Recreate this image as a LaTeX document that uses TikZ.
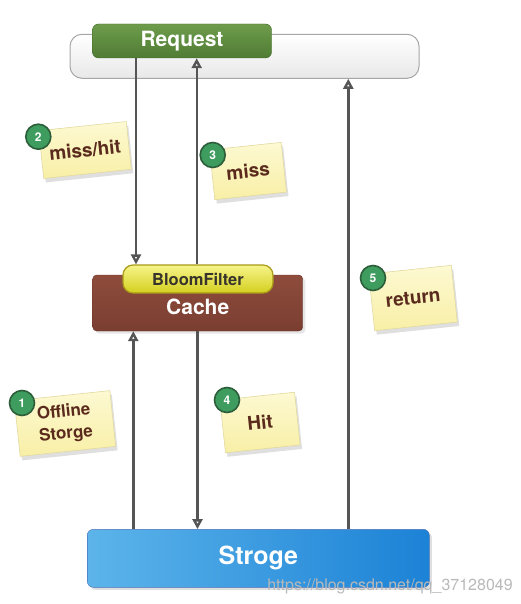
\documentclass[tikz,border=0pt]{standalone}
\usepackage{fontspec}
\setmainfont{TeX Gyre Heros}
\usepackage{tikz}
\usetikzlibrary{calc, positioning, arrows.meta, shadows}

\definecolor{linegray}{HTML}{555555}
\definecolor{reqtop}{HTML}{6E9C4C}
\definecolor{reqbot}{HTML}{4F7C33}
\definecolor{reqbrd}{HTML}{3F6628}
\definecolor{cachetop}{HTML}{8E4C3C}
\definecolor{cachebot}{HTML}{7A3E31}
\definecolor{cachebrd}{HTML}{6A3428}
\definecolor{bloomtop}{HTML}{F6F48A}
\definecolor{bloombot}{HTML}{D4CF1E}
\definecolor{bloombrd}{HTML}{A89A18}
\definecolor{strglight}{HTML}{5CB4EA}
\definecolor{strgblue}{HTML}{2090DA}
\definecolor{strgdark}{HTML}{1C82D6}
\definecolor{strgbrd}{HTML}{4A70B8}
\definecolor{notetop}{HTML}{FDF9D2}
\definecolor{notebot}{HTML}{F8EFA6}
\definecolor{notebrd}{HTML}{E2D9A0}
\definecolor{notetext}{HTML}{5A2A1C}
\definecolor{badgegreen}{HTML}{3D9C5E}
\definecolor{badgebrd}{HTML}{2D5E3A}

\begin{document}
\begin{tikzpicture}[x=1pt, y=-1pt,
    flow/.style={line width=2.4pt, draw=linegray, -{Triangle[open, length=10pt, width=10pt]}},
    note/.style={draw=notebrd, line width=0.6pt, top color=notetop, bottom color=notebot, rotate=6,
        drop shadow={opacity=0.25, shadow xshift=2pt, shadow yshift=-4pt},
        text=notetext, font=\bfseries\fontsize{19pt}{21pt}\selectfont, align=center, inner sep=0pt},
    badge/.style={circle, draw=badgebrd, line width=1.6pt, fill=badgegreen, text=white,
        minimum size=25pt, inner sep=0pt, font=\bfseries\fontsize{12pt}{12pt}\selectfont}]
        \useasboundingbox (0,0) rectangle (521,604);
        \coordinate (down) at (136,0);
        \coordinate (miss) at (196.7,0);
        \coordinate (back) at (348.3,0);
        \coordinate (load) at (133.3,0);
        \coordinate (hit) at (197.5,0);
        \node[draw=gray!70, line width=1pt, rounded corners=12pt, top color=white, bottom color=gray!18,
            minimum width=349pt, minimum height=44pt] (bar) at (244.5,56.3) {};
        \node[draw=reqbrd, rounded corners=6pt, top color=reqtop, bottom color=reqbot, text=white,
            font=\bfseries\fontsize{21pt}{21pt}\selectfont, minimum width=179pt, minimum height=34pt] (req) at (182,41) {Request};
        \node[draw=cachebrd, rounded corners=4pt, top color=cachetop, bottom color=cachebot, text=white,
            drop shadow={opacity=0.2}, font=\bfseries\fontsize{21pt}{21pt}\selectfont,
            minimum width=210pt, minimum height=56pt, text depth=0pt] (cache) at (197.7,303) {\raisebox{-8pt}{Cache}};
        \node[draw=bloombrd, line width=1.2pt, rounded corners=10pt, top color=bloomtop, bottom color=bloombot,
            text=black!80!olive, font=\bfseries\fontsize{16.5pt}{16.5pt}\selectfont,
            minimum width=150pt, minimum height=28pt] (bloom) at (198,279) {BloomFilter};
        \node[draw=strgbrd, rounded corners=6pt, left color=strglight, middle color=strgblue, right color=strgdark,
            drop shadow={opacity=0.25}, text=white, font=\bfseries\fontsize{25pt}{25pt}\selectfont,
            minimum width=342pt, minimum height=58pt] (strg) at (258.3,558.3) {Stroge};
        \draw[flow] (req.south -| down) -- (bloom.north -| down);
        \draw[flow] (bloom.north -| miss) -- (req.south -| miss);
        \draw[flow] (strg.north -| back) -- (bar.south -| back);
        \draw[flow] (strg.north -| load) -- (cache.south -| load);
        \draw[flow] (cache.south -| hit) -- (strg.north -| hit);
        \node[note, minimum width=88pt, minimum height=48pt] (n2) at (85,150) {miss/hit};
        \node[note, minimum width=72pt, minimum height=50pt] (n3) at (248,171) {miss};
        \node[note, minimum width=83pt, minimum height=57pt] (n5) at (413,298) {return};
        \node[note, minimum width=96pt, minimum height=56pt, font=\bfseries\fontsize{17pt}{22pt}\selectfont] (n1) at (65,423.5) {Offline\\Storge};
        \node[note, minimum width=75pt, minimum height=53pt] (n4) at (260,422.5) {Hit};
        \node[badge] (b2) at (38.3,136.7) {2};
        \node[badge] (b3) at (212.7,155) {3};
        \node[badge] (b5) at (373,278) {5};
        \node[badge] (b1) at (22,403) {1};
        \node[badge] (b4) at (227,400) {4};
        \node[text=gray!55, font=\fontsize{16pt}{16pt}\selectfont] (mark) at (390,586) {https://blog.csdn.net/qq\_37128049};
    \end{tikzpicture}
\end{document}
